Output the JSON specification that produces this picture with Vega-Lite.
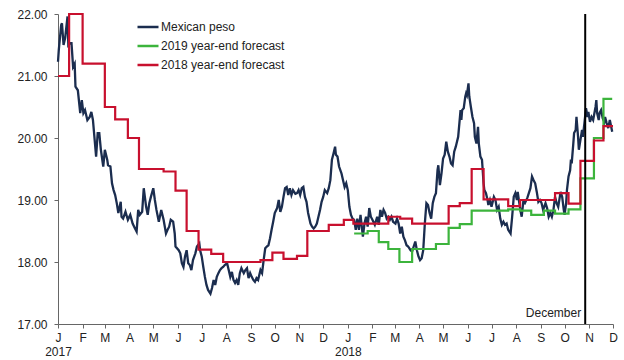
{
  "$schema": "https://vega.github.io/schema/vega-lite/v6.json",
  "width": 555,
  "height": 310,
  "autosize": {"type": "none"},
  "padding": {"left": 58, "top": 14, "right": 11, "bottom": 36},
  "background": "white",
  "config": {"view": {"stroke": null}, "font": "Liberation Sans"},
  "datasets": {
    "peso": [
      {"date":"2017-01-01","value":21.23},{"date":"2017-01-02","value":21.42},{"date":"2017-01-05","value":21.82},{"date":"2017-01-06","value":21.85},{"date":"2017-01-08","value":21.5},{"date":"2017-01-10","value":21.61},{"date":"2017-01-13","value":21.96},{"date":"2017-01-14","value":21.5},{"date":"2017-01-16","value":21.53},{"date":"2017-01-18","value":21.53},{"date":"2017-01-20","value":21.15},{"date":"2017-01-22","value":21.2},{"date":"2017-01-23","value":20.83},{"date":"2017-01-26","value":20.77},{"date":"2017-01-29","value":20.4},{"date":"2017-01-31","value":20.61},
      {"date":"2017-02-02","value":20.4},{"date":"2017-02-04","value":20.45},{"date":"2017-02-07","value":20.29},{"date":"2017-02-10","value":20.34},{"date":"2017-02-12","value":20.42},{"date":"2017-02-14","value":20.29},{"date":"2017-02-18","value":19.7},{"date":"2017-02-20","value":20.08},{"date":"2017-02-22","value":20.08},{"date":"2017-02-24","value":19.81},{"date":"2017-02-27","value":19.54},
      {"date":"2017-03-01","value":19.81},{"date":"2017-03-04","value":19.65},{"date":"2017-03-05","value":19.56},{"date":"2017-03-08","value":19.54},{"date":"2017-03-10","value":19.27},{"date":"2017-03-12","value":19.16},{"date":"2017-03-14","value":19.08},{"date":"2017-03-16","value":18.95},{"date":"2017-03-18","value":18.79},{"date":"2017-03-21","value":18.97},{"date":"2017-03-22","value":18.73},{"date":"2017-03-24","value":18.7},{"date":"2017-03-27","value":18.81},{"date":"2017-03-30","value":18.68},
      {"date":"2017-04-02","value":18.76},{"date":"2017-04-05","value":18.62},{"date":"2017-04-08","value":18.54},{"date":"2017-04-10","value":18.49},{"date":"2017-04-12","value":18.84},{"date":"2017-04-14","value":18.76},{"date":"2017-04-17","value":18.81},{"date":"2017-04-19","value":19.19},{"date":"2017-04-22","value":18.89},{"date":"2017-04-24","value":18.76},{"date":"2017-04-26","value":18.95},{"date":"2017-04-28","value":19.05},
      {"date":"2017-05-01","value":19.19},{"date":"2017-05-03","value":19.0},{"date":"2017-05-05","value":18.84},{"date":"2017-05-08","value":18.65},{"date":"2017-05-11","value":18.84},{"date":"2017-05-14","value":18.68},{"date":"2017-05-17","value":18.46},{"date":"2017-05-19","value":18.52},{"date":"2017-05-21","value":18.57},{"date":"2017-05-23","value":18.68},{"date":"2017-05-26","value":18.65},{"date":"2017-05-28","value":18.46},{"date":"2017-05-29","value":18.25},
      {"date":"2017-06-02","value":18.19},{"date":"2017-06-04","value":18.14},{"date":"2017-06-06","value":17.98},{"date":"2017-06-08","value":17.92},{"date":"2017-06-10","value":18.09},{"date":"2017-06-12","value":18.19},{"date":"2017-06-14","value":17.98},{"date":"2017-06-16","value":17.95},{"date":"2017-06-18","value":17.87},{"date":"2017-06-20","value":18.03},{"date":"2017-06-23","value":18.14},{"date":"2017-06-25","value":18.25},{"date":"2017-06-28","value":18.3},{"date":"2017-06-29","value":18.19},
      {"date":"2017-07-01","value":18.09},{"date":"2017-07-03","value":17.92},{"date":"2017-07-05","value":17.76},{"date":"2017-07-07","value":17.63},{"date":"2017-07-09","value":17.55},{"date":"2017-07-12","value":17.49},{"date":"2017-07-14","value":17.58},{"date":"2017-07-16","value":17.71},{"date":"2017-07-18","value":17.63},{"date":"2017-07-20","value":17.76},{"date":"2017-07-22","value":17.82},{"date":"2017-07-24","value":17.87},{"date":"2017-07-26","value":17.9},{"date":"2017-07-28","value":17.92},{"date":"2017-07-30","value":17.95},
      {"date":"2017-08-02","value":17.98},{"date":"2017-08-04","value":17.87},{"date":"2017-08-06","value":17.76},{"date":"2017-08-08","value":17.84},{"date":"2017-08-10","value":17.71},{"date":"2017-08-12","value":17.66},{"date":"2017-08-14","value":17.71},{"date":"2017-08-16","value":17.63},{"date":"2017-08-18","value":17.82},{"date":"2017-08-20","value":17.9},{"date":"2017-08-23","value":17.82},{"date":"2017-08-25","value":17.87},{"date":"2017-08-27","value":17.9},{"date":"2017-08-29","value":17.74},{"date":"2017-08-31","value":17.82},
      {"date":"2017-09-02","value":17.76},{"date":"2017-09-04","value":17.71},{"date":"2017-09-06","value":17.68},{"date":"2017-09-08","value":17.74},{"date":"2017-09-10","value":17.71},{"date":"2017-09-13","value":17.87},{"date":"2017-09-15","value":17.82},{"date":"2017-09-17","value":18.03},{"date":"2017-09-19","value":18.22},{"date":"2017-09-21","value":18.25},{"date":"2017-09-23","value":18.27},{"date":"2017-09-25","value":18.38},{"date":"2017-09-27","value":18.52},{"date":"2017-09-29","value":18.65},
      {"date":"2017-10-01","value":18.79},{"date":"2017-10-04","value":18.87},{"date":"2017-10-06","value":19.0},{"date":"2017-10-08","value":18.81},{"date":"2017-10-10","value":18.89},{"date":"2017-10-12","value":19.05},{"date":"2017-10-14","value":19.19},{"date":"2017-10-16","value":19.21},{"date":"2017-10-18","value":19.08},{"date":"2017-10-20","value":19.19},{"date":"2017-10-22","value":19.08},{"date":"2017-10-24","value":19.16},{"date":"2017-10-27","value":19.1},{"date":"2017-10-29","value":19.11},{"date":"2017-10-31","value":19.16},
      {"date":"2017-11-02","value":19.08},{"date":"2017-11-04","value":19.19},{"date":"2017-11-06","value":19.21},{"date":"2017-11-08","value":19.05},{"date":"2017-11-10","value":18.97},{"date":"2017-11-12","value":18.79},{"date":"2017-11-15","value":18.62},{"date":"2017-11-17","value":18.57},{"date":"2017-11-19","value":18.54},{"date":"2017-11-21","value":18.57},{"date":"2017-11-23","value":18.62},{"date":"2017-11-25","value":18.73},{"date":"2017-11-27","value":18.84},{"date":"2017-11-29","value":18.97},
      {"date":"2017-12-01","value":19.05},{"date":"2017-12-03","value":19.16},{"date":"2017-12-06","value":19.11},{"date":"2017-12-08","value":19.19},{"date":"2017-12-10","value":19.32},{"date":"2017-12-12","value":19.65},{"date":"2017-12-14","value":19.75},{"date":"2017-12-16","value":19.86},{"date":"2017-12-17","value":19.73},{"date":"2017-12-19","value":19.7},{"date":"2017-12-21","value":19.54},{"date":"2017-12-24","value":19.43},{"date":"2017-12-26","value":19.32},{"date":"2017-12-28","value":19.21},{"date":"2017-12-30","value":19.27},
      {"date":"2018-01-01","value":19.16},{"date":"2018-01-03","value":18.89},{"date":"2018-01-05","value":18.76},{"date":"2018-01-07","value":18.7},{"date":"2018-01-09","value":18.68},{"date":"2018-01-11","value":18.52},{"date":"2018-01-13","value":18.7},{"date":"2018-01-15","value":18.52},{"date":"2018-01-17","value":18.76},{"date":"2018-01-20","value":18.41},{"date":"2018-01-22","value":18.62},{"date":"2018-01-24","value":18.73},{"date":"2018-01-26","value":18.57},{"date":"2018-01-28","value":18.87},{"date":"2018-01-30","value":18.73},
      {"date":"2018-02-01","value":18.68},{"date":"2018-02-04","value":18.6},{"date":"2018-02-07","value":18.73},{"date":"2018-02-09","value":18.6},{"date":"2018-02-11","value":18.84},{"date":"2018-02-13","value":18.73},{"date":"2018-02-15","value":18.84},{"date":"2018-02-17","value":18.79},{"date":"2018-02-19","value":18.7},{"date":"2018-02-21","value":18.73},{"date":"2018-02-23","value":18.68},{"date":"2018-02-25","value":18.73},{"date":"2018-02-27","value":18.65},
      {"date":"2018-03-02","value":18.62},{"date":"2018-03-04","value":18.7},{"date":"2018-03-06","value":18.62},{"date":"2018-03-08","value":18.46},{"date":"2018-03-10","value":18.57},{"date":"2018-03-12","value":18.41},{"date":"2018-03-14","value":18.35},{"date":"2018-03-16","value":18.27},{"date":"2018-03-18","value":18.25},{"date":"2018-03-21","value":18.19},{"date":"2018-03-23","value":18.17},{"date":"2018-03-25","value":18.25},{"date":"2018-03-27","value":18.33},{"date":"2018-03-29","value":18.19},{"date":"2018-03-31","value":18.09},
      {"date":"2018-04-02","value":18.03},{"date":"2018-04-04","value":18.06},{"date":"2018-04-06","value":18.19},{"date":"2018-04-08","value":18.62},{"date":"2018-04-10","value":18.95},{"date":"2018-04-12","value":18.92},{"date":"2018-04-14","value":18.79},{"date":"2018-04-16","value":18.7},{"date":"2018-04-18","value":18.95},{"date":"2018-04-20","value":19.05},{"date":"2018-04-22","value":19.11},{"date":"2018-04-24","value":19.48},{"date":"2018-04-25","value":19.56},{"date":"2018-04-27","value":19.24},{"date":"2018-04-29","value":19.43},
      {"date":"2018-05-01","value":19.67},{"date":"2018-05-03","value":19.73},{"date":"2018-05-05","value":19.94},{"date":"2018-05-07","value":19.78},{"date":"2018-05-09","value":19.7},{"date":"2018-05-11","value":19.59},{"date":"2018-05-13","value":19.56},{"date":"2018-05-15","value":19.78},{"date":"2018-05-17","value":19.86},{"date":"2018-05-20","value":20.02},{"date":"2018-05-23","value":20.45},{"date":"2018-05-24","value":20.29},{"date":"2018-05-25","value":20.45},{"date":"2018-05-27","value":20.48},{"date":"2018-05-29","value":20.67},{"date":"2018-05-30","value":20.72},{"date":"2018-05-31","value":20.69},
      {"date":"2018-06-02","value":20.88},{"date":"2018-06-03","value":20.67},{"date":"2018-06-05","value":20.5},{"date":"2018-06-07","value":20.34},{"date":"2018-06-09","value":20.24},{"date":"2018-06-10","value":20.02},{"date":"2018-06-12","value":19.91},{"date":"2018-06-14","value":20.18},{"date":"2018-06-15","value":19.91},{"date":"2018-06-17","value":19.7},{"date":"2018-06-19","value":19.65},{"date":"2018-06-21","value":19.27},{"date":"2018-06-22","value":19.16},{"date":"2018-06-24","value":19.11},{"date":"2018-06-26","value":19.0},{"date":"2018-06-27","value":18.92},{"date":"2018-06-29","value":19.0},
      {"date":"2018-07-01","value":18.89},{"date":"2018-07-04","value":19.05},{"date":"2018-07-06","value":19.0},{"date":"2018-07-08","value":18.84},{"date":"2018-07-10","value":18.89},{"date":"2018-07-12","value":18.7},{"date":"2018-07-14","value":18.6},{"date":"2018-07-16","value":18.65},{"date":"2018-07-18","value":18.6},{"date":"2018-07-20","value":18.62},{"date":"2018-07-22","value":18.52},{"date":"2018-07-25","value":18.46},{"date":"2018-07-27","value":18.73},{"date":"2018-07-29","value":19.05},{"date":"2018-07-31","value":19.11},
      {"date":"2018-08-02","value":19.0},{"date":"2018-08-03","value":19.13},{"date":"2018-08-05","value":18.95},{"date":"2018-08-07","value":18.79},{"date":"2018-08-08","value":18.73},{"date":"2018-08-10","value":18.97},{"date":"2018-08-12","value":18.95},{"date":"2018-08-15","value":19.03},{"date":"2018-08-17","value":19.11},{"date":"2018-08-19","value":19.19},{"date":"2018-08-21","value":19.38},{"date":"2018-08-23","value":19.32},{"date":"2018-08-25","value":19.27},{"date":"2018-08-27","value":19.13},{"date":"2018-08-29","value":18.97},{"date":"2018-08-31","value":19.0},
      {"date":"2018-09-02","value":18.95},{"date":"2018-09-04","value":18.84},{"date":"2018-09-07","value":18.95},{"date":"2018-09-09","value":18.87},{"date":"2018-09-11","value":18.73},{"date":"2018-09-13","value":18.79},{"date":"2018-09-15","value":18.73},{"date":"2018-09-17","value":18.84},{"date":"2018-09-19","value":19.05},{"date":"2018-09-21","value":18.95},{"date":"2018-09-23","value":18.89},{"date":"2018-09-26","value":19.13},{"date":"2018-09-28","value":19.05},{"date":"2018-09-30","value":18.84},
      {"date":"2018-10-01","value":18.76},{"date":"2018-10-03","value":18.95},{"date":"2018-10-04","value":19.16},{"date":"2018-10-06","value":19.38},{"date":"2018-10-08","value":19.48},{"date":"2018-10-09","value":19.65},{"date":"2018-10-10","value":19.59},{"date":"2018-10-12","value":19.91},{"date":"2018-10-13","value":20.08},{"date":"2018-10-15","value":20.13},{"date":"2018-10-16","value":20.34},{"date":"2018-10-18","value":20.02},{"date":"2018-10-19","value":19.81},{"date":"2018-10-21","value":19.97},{"date":"2018-10-23","value":20.13},{"date":"2018-10-24","value":20.02},{"date":"2018-10-26","value":20.24},{"date":"2018-10-28","value":20.48},{"date":"2018-10-30","value":20.34},{"date":"2018-10-31","value":20.42},
      {"date":"2018-11-02","value":20.26},{"date":"2018-11-04","value":20.34},{"date":"2018-11-06","value":20.29},{"date":"2018-11-09","value":20.5},{"date":"2018-11-10","value":20.61},{"date":"2018-11-11","value":20.4},{"date":"2018-11-13","value":20.29},{"date":"2018-11-14","value":20.4},{"date":"2018-11-16","value":20.45},{"date":"2018-11-18","value":20.32},{"date":"2018-11-20","value":20.26},{"date":"2018-11-21","value":20.34},{"date":"2018-11-23","value":20.24},{"date":"2018-11-25","value":20.16},{"date":"2018-11-27","value":20.29},{"date":"2018-11-30","value":20.1}
    ],
    "f2019": [
      {"date":"2018-01-09","value":18.46},{"date":"2018-01-26","value":18.5},{"date":"2018-02-09","value":18.32},{"date":"2018-02-21","value":18.21},{"date":"2018-03-07","value":18.0},{"date":"2018-03-23","value":18.21},{"date":"2018-04-22","value":18.29},{"date":"2018-05-08","value":18.55},{"date":"2018-05-22","value":18.61},{"date":"2018-06-06","value":18.83},{"date":"2018-07-22","value":18.85},{"date":"2018-08-06","value":18.83},{"date":"2018-08-20","value":18.76},{"date":"2018-09-05","value":18.83},{"date":"2018-09-19","value":18.78},{"date":"2018-10-06","value":18.85},{"date":"2018-10-21","value":19.35},{"date":"2018-11-07","value":20.0},{"date":"2018-11-19","value":20.63},{"date":"2018-11-30","value":20.63}
    ],
    "f2018": [
      {"date":"2017-01-01","value":21.0},{"date":"2017-01-15","value":22.0},{"date":"2017-02-01","value":21.2},{"date":"2017-03-01","value":20.5},{"date":"2017-03-14","value":20.3},{"date":"2017-03-30","value":20.0},{"date":"2017-04-13","value":19.5},{"date":"2017-05-14","value":19.46},{"date":"2017-05-29","value":19.15},{"date":"2017-06-12","value":18.5},{"date":"2017-06-27","value":18.2},{"date":"2017-07-13","value":18.13},{"date":"2017-07-28","value":18.0},{"date":"2017-09-13","value":18.03},{"date":"2017-09-28","value":18.15},{"date":"2017-10-12","value":18.05},{"date":"2017-10-29","value":18.1},{"date":"2017-11-11","value":18.5},{"date":"2017-12-08","value":18.6},{"date":"2017-12-27","value":18.68},{"date":"2018-01-08","value":18.62},{"date":"2018-02-21","value":18.73},{"date":"2018-03-08","value":18.7},{"date":"2018-03-23","value":18.62},{"date":"2018-05-08","value":18.9},{"date":"2018-05-22","value":18.95},{"date":"2018-06-06","value":19.5},{"date":"2018-06-21","value":19.01},{"date":"2018-07-22","value":18.9},{"date":"2018-08-06","value":19.0},{"date":"2018-09-19","value":19.11},{"date":"2018-10-06","value":18.94},{"date":"2018-10-21","value":19.63},{"date":"2018-11-07","value":19.96},{"date":"2018-11-19","value":20.19},{"date":"2018-12-01","value":20.19}
    ],
    "marker": [
      {"date":"2018-10-27","value":17.18,"label":"December"}
    ]
  },
  "layer": [
    {
      "encoding": {
        "x": {
          "field": "date", "type": "temporal",
          "scale": {"type": "utc", "domain": [{"year":2017,"month":1,"date":1,"utc":true},{"year":2018,"month":12,"date":1,"utc":true}], "nice": false},
          "axis": {
            "title": null, "grid": false,
            "tickCount": {"interval": "month", "step": 1},
            "labelExpr": "utcmonth(datum.value) == 0 ? [slice(utcFormat(datum.value, '%b'), 0, 1), utcFormat(datum.value, '%Y')] : slice(utcFormat(datum.value, '%b'), 0, 1)",
            "domainColor": "#666666", "tickColor": "#666666", "tickSize": 4,
            "labelPadding": 4, "labelFontSize": 12, "labelColor": "#222222",
            "labelLineHeight": 14, "labelFlush": false, "labelOverlap": false
          }
        },
        "y": {
          "field": "value", "type": "quantitative",
          "scale": {"domain": [17, 22], "nice": false, "zero": false},
          "axis": {
            "title": null, "grid": false, "values": [17, 18, 19, 20, 21, 22], "format": ".2f",
            "domainColor": "#666666", "tickColor": "#666666", "tickSize": 4,
            "labelPadding": 7, "labelFontSize": 12, "labelColor": "#222222"
          }
        }
      },
      "layer": [
        {
          "data": {"name": "peso"},
          "mark": {"type": "line", "strokeWidth": 2.3},
          "encoding": {
            "color": {
              "datum": "Mexican peso", "type": "nominal",
              "scale": {"domain": ["Mexican peso", "2019 year-end forecast", "2018 year-end forecast"], "range": ["#1b2d4f", "#3cb43c", "#c8102e"]},
              "legend": {
                "title": null, "orient": "none", "legendX": 78, "legendY": 1,
                "symbolType": "stroke", "symbolSize": 441, "symbolStrokeWidth": 2.5,
                "labelFontSize": 12, "labelColor": "#222222", "rowPadding": 1, "labelOffset": 1, "padding": 0
              }
            }
          }
        },
        {
          "data": {"name": "f2019"},
          "mark": {"type": "line", "interpolate": "step-after", "strokeWidth": 2.2},
          "encoding": {"color": {"datum": "2019 year-end forecast", "type": "nominal"}}
        },
        {
          "data": {"name": "f2018"},
          "mark": {"type": "line", "interpolate": "step-after", "strokeWidth": 2.2},
          "encoding": {"color": {"datum": "2018 year-end forecast", "type": "nominal"}}
        }
      ]
    },
    {
      "data": {"name": "marker"},
      "mark": {"type": "rule", "color": "#000000", "strokeWidth": 2},
      "encoding": {
        "x": {"field": "date", "type": "temporal"}
      }
    },
    {
      "data": {"name": "marker"},
      "mark": {"type": "text", "align": "right", "baseline": "middle", "dx": -4, "fontSize": 12, "color": "#222222"},
      "encoding": {
        "x": {"field": "date", "type": "temporal"},
        "y": {"field": "value", "type": "quantitative"},
        "text": {"field": "label"}
      }
    }
  ]
}
